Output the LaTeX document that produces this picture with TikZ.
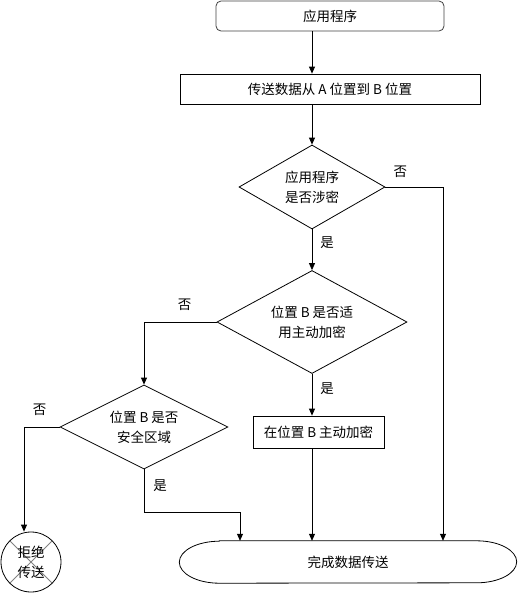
\documentclass[tikz,border=0pt]{standalone}
\usepackage{fontspec}
\setmainfont{Noto Sans CJK SC}
\usepackage{tikz}
\usetikzlibrary{shapes.geometric, arrows.meta, positioning}

\begin{document}
\begin{tikzpicture}[
    node distance=60pt,
    font=\fontsize{13.5pt}{20pt}\selectfont,
    startbox/.style={rectangle, draw=black!75, rounded corners=5pt,
                minimum width=228pt, minimum height=30pt, line width=0.8pt},
    procbox/.style={rectangle, draw, minimum height=30pt, line width=0.8pt},
    decision/.style={diamond, draw, align=center, inner sep=0pt, line width=0.8pt},
    endbox/.style={rectangle, minimum width=337pt, minimum height=42pt},
    rejectcircle/.style={circle, draw, minimum size=60pt, inner sep=0pt,
                align=center, line width=0.8pt,
                path picture={
                    \draw[gray, line width=0.8pt] (path picture bounding box.north west) -- (path picture bounding box.south east);
                    \draw[gray, line width=0.8pt] (path picture bounding box.north east) -- (path picture bounding box.south west);
                }},
    lbl/.style={inner sep=0pt},
    arrow/.style={-{Triangle[length=7pt, width=6pt]}, line width=0.8pt}
]
\useasboundingbox (0,0) rectangle (518pt,-595pt);

\node (app) [startbox] at (330pt,-16pt) {应用程序};
\node (trans) [procbox, minimum width=300pt, below of=app, yshift=-13pt] {传送数据从 A 位置到 B 位置};
\node (d1) [decision, aspect=1.74, minimum width=146pt, minimum height=84pt, below of=trans, xshift=-18pt, yshift=-38pt] {应用程序\\是否涉密};
\node (d2) [decision, aspect=1.84, minimum width=190pt, minimum height=103pt, below of=d1, yshift=-75pt] {位置 B 是否适\\用主动加密};
\node (enc) [procbox, minimum width=131pt, minimum height=32pt, below of=d2, xshift=6.5pt, yshift=-50pt] {在位置 B 主动加密};
\node (d3) [decision, aspect=2, minimum width=168pt, minimum height=84pt, left of=d2, xshift=-108pt, yshift=-105pt] {位置 B 是否\\安全区域};
\node (done) [endbox, below of=enc, xshift=29.5pt, yshift=-70pt] {完成数据传送};
\node (reject) [rejectcircle, left of=d3, xshift=-53pt, yshift=-135pt] {拒绝\\传送};

% outline of the terminal
\draw[line width=0.8pt] ([xshift=40pt]done.north west) -- ([xshift=-40pt]done.north east)
    arc[start angle=90, end angle=-90, x radius=40pt, y radius=21pt]
    -- ([xshift=40pt]done.south west)
    arc[start angle=270, end angle=90, x radius=40pt, y radius=21pt] -- cycle;

\draw [arrow] (app.south -| d1.north) -- (trans.north -| d1.north);
\draw [arrow] (trans.south -| d1.north) -- (d1.north);
\draw [arrow] (d1.east) -| ([xshift=95pt]done.north);
\draw [arrow] (d1.south) -- (d2.north);
\draw [arrow] (d2.west) -| (d3.north);
\draw [arrow] (d2.south) -- (enc.north -| d2.south);
\draw [arrow] (enc.south -| d2.south) -- (done.north -| d2.south);
\draw [arrow] (d3.west) -| ([xshift=-7pt]reject.north);
\draw [arrow] (d3.south) -- ++(0,-43pt) -| ([xshift=-108pt]done.north);

\node (no1) [lbl] at ([xshift=15pt, yshift=15pt]d1.east) {否};
\node (yes1) [lbl] at ([xshift=15pt, yshift=-13pt]d1.south) {是};
\node (no2) [lbl] at ([xshift=-32pt, yshift=17pt]d2.west) {否};
\node (yes2) [lbl] at ([xshift=15pt, yshift=-15pt]d2.south) {是};
\node (no3) [lbl] at ([xshift=-20pt, yshift=17pt]d3.west) {否};
\node (yes3) [lbl] at ([xshift=16pt, yshift=-16pt]d3.south) {是};

\end{tikzpicture}
\end{document}
